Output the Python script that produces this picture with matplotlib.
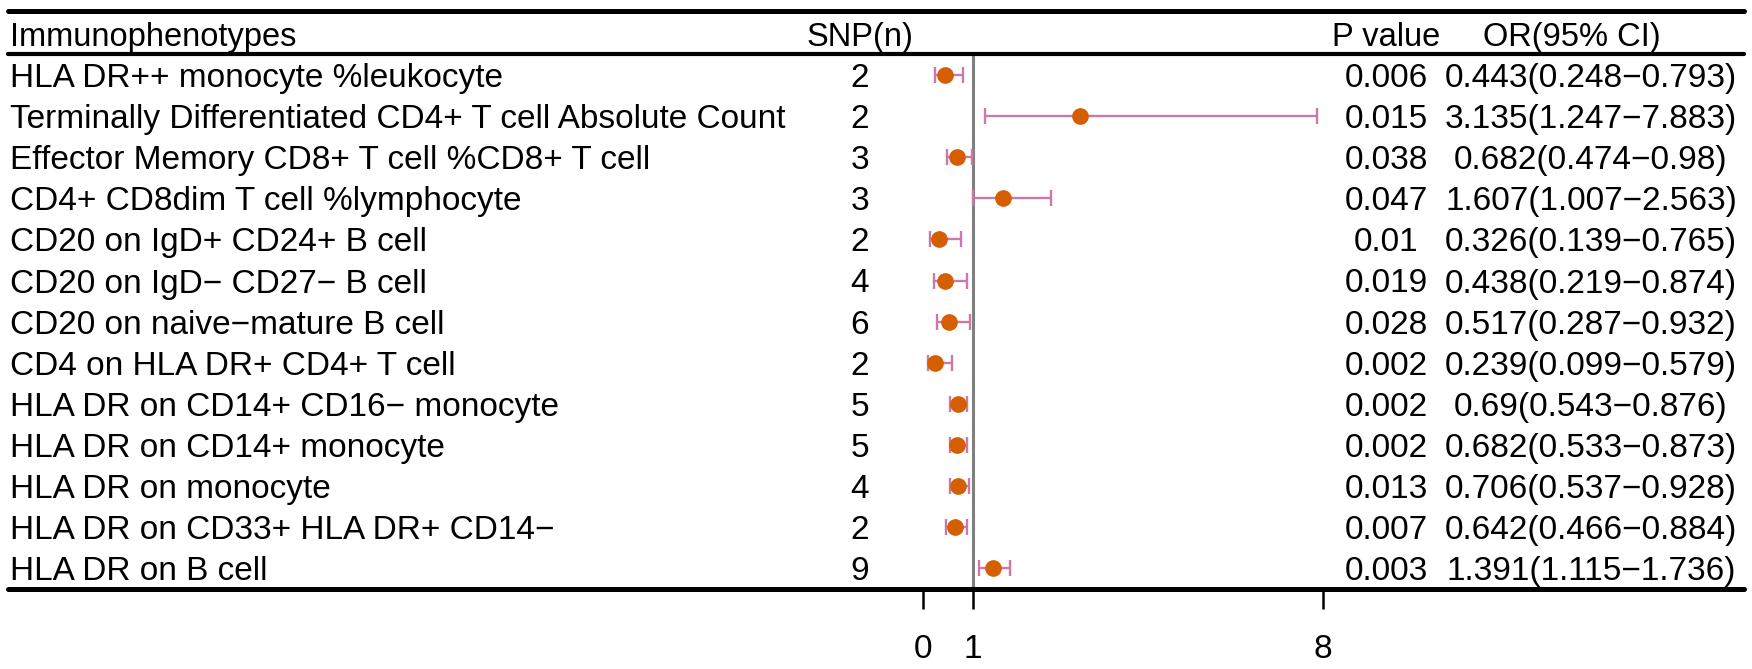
import numpy as np
import matplotlib
matplotlib.use("Agg")
import matplotlib.pyplot as plt
import matplotlib.transforms as mtransforms

# forest plot data
traits = [
    "HLA DR++ monocyte %leukocyte",
    "Terminally Differentiated CD4+ T cell Absolute Count",
    "Effector Memory CD8+ T cell %CD8+ T cell",
    "CD4+ CD8dim T cell %lymphocyte",
    "CD20 on IgD+ CD24+ B cell",
    "CD20 on IgD\u2212 CD27\u2212 B cell",
    "CD20 on naive\u2212mature B cell",
    "CD4 on HLA DR+ CD4+ T cell",
    "HLA DR on CD14+ CD16\u2212 monocyte",
    "HLA DR on CD14+ monocyte",
    "HLA DR on monocyte",
    "HLA DR on CD33+ HLA DR+ CD14\u2212",
    "HLA DR on B cell",
]
snp_n = [2, 2, 3, 3, 2, 4, 6, 2, 5, 5, 4, 2, 9]
p_value = [0.006, 0.015, 0.038, 0.047, 0.01, 0.019, 0.028, 0.002, 0.002, 0.002, 0.013, 0.007, 0.003]
or_val = [0.443, 3.135, 0.682, 1.607, 0.326, 0.438, 0.517, 0.239, 0.69, 0.682, 0.706, 0.642, 1.391]
ci_low = [0.248, 1.247, 0.474, 1.007, 0.139, 0.219, 0.287, 0.099, 0.543, 0.533, 0.537, 0.466, 1.115]
ci_high = [0.793, 7.883, 0.98, 2.563, 0.765, 0.874, 0.932, 0.579, 0.876, 0.873, 0.928, 0.884, 1.736]
headers = ["Immunophenotypes", "SNP(n)", "P value", "OR(95% CI)"]
x_ticks = [0, 1, 8]

plt.rcParams['font.family'] = ['Liberation Sans', 'DejaVu Sans']

W, H = 1752, 669
fig = plt.figure(figsize=(W / 100, H / 100), dpi=100)

# pixel layout (from top): row 1 at 75px, row step 41.1px, bottom rule at row 13.5
row_px0, row_step = 75.0, 41.1
bottom_px = row_px0 + 12.5 * row_step
top_row = 1 - row_px0 / row_step
ax = fig.add_axes([0, (H - bottom_px) / H, 1, bottom_px / H])
x_px0, x_unit = 923.0, 50.0
ax.set_xlim(-x_px0 / x_unit, (W - x_px0) / x_unit)
ax.set_ylim(13.5, top_row)
for s in ax.spines.values():
    s.set_visible(False)

fs = 24
ax.set_yticks([])
ax.set_xticks(x_ticks)
ax.set_xticklabels([str(t) for t in x_ticks], fontsize=fs)
ax.tick_params(axis='x', length=14.5, width=1.8, pad=18, color='black')

trans = mtransforms.blended_transform_factory(ax.transAxes, ax.transData)
col_x = [10 / W, 860 / W, 1386 / W, 1591 / W]
head_x = [10 / W, 860 / W, 1386 / W, 1572 / W]
col_ha = ['left', 'center', 'center', 'center']

rows = np.arange(1, len(traits) + 1)

# header
for hx, ha, h in zip(head_x, col_ha, headers):
    ax.text(hx, 0, h, transform=trans, ha=ha, va='center_baseline', fontsize=fs - 0.5)

# body text
for r, name, n, p, o, lo, hi in zip(rows, traits, snp_n, p_value, or_val, ci_low, ci_high):
    cells = [name, str(n), str(p), f"{o}({lo}\u2212{hi})"]
    for cx, ha, c in zip(col_x, col_ha, cells):
        ax.text(cx, r, c, transform=trans, ha=ha, va='center_baseline', fontsize=fs)

# rules
x0f, x1f = 8 / W, 1744 / W
for y, lw in [(1 + (11 - row_px0) / row_step, 3.6), (0.5, 3.0), (13.5, 3.6)]:
    ax.plot([x0f, x1f], [y, y], transform=trans, color='black', lw=lw,
            solid_capstyle='round', clip_on=False, zorder=3)

# reference line at OR = 1
ax.plot([1, 1], [0.5, 13.5], color='#808080', lw=2.2, zorder=1)

# CIs and points
ors = np.array(or_val)
err = np.vstack([ors - np.array(ci_low), np.array(ci_high) - ors])
ax.errorbar(ors, rows, xerr=err, fmt='none', ecolor='#CC79A7', elinewidth=1.7,
            capsize=6, capthick=1.7, zorder=2)
ax.plot(ors, rows, 'o', color='#D55E00', markersize=11, zorder=4)

fig.savefig("out.png", dpi=100)
